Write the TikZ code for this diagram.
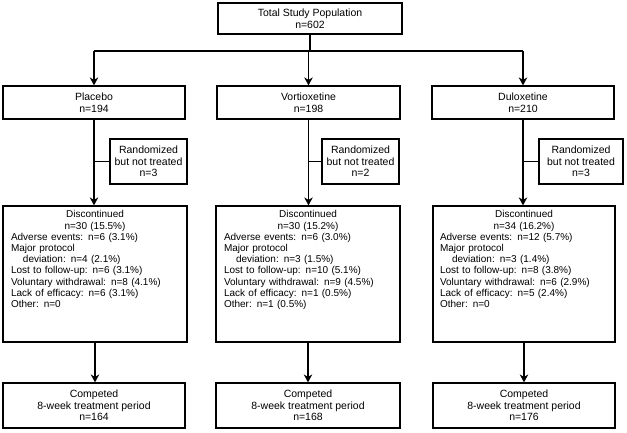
\documentclass[tikz,border=0pt]{standalone}
\usepackage{fontspec}
\setmainfont{Liberation Sans}
\usetikzlibrary{arrows.meta,positioning}
\newcommand{\boxfont}{\fontsize{10.5}{11.5}\selectfont}
\newcommand{\discfont}{\fontsize{10}{11.2}\selectfont}
\newcommand{\indt}{\hspace*{12pt}}
\newcommand{\midline}[1]{\makebox[\hsize]{#1}}
\newcommand{\tail}{\rule[-30pt]{0pt}{30pt}}
\tikzset{
  box/.style={draw, line width=1.2pt, align=center, inner sep=2pt, font=\boxfont},
  discbox/.style={box, align=left, text width=168pt, inner xsep=7pt, inner ysep=3pt,
    minimum height=136pt, font=\discfont},
  conn/.style={line width=1.4pt},
  arr/.style={conn, -{Stealth[length=8pt, width=8.5pt, inset=2.5pt]}},
}
\begin{document}
\begin{tikzpicture}[x=1pt, y=-1pt]
  \useasboundingbox (0,0) rectangle (627,432);
  % population
  \node[box, minimum width=184pt, minimum height=31pt] (total) at (310,18.5)
    {Total Study Population\\n=602};
  % treatment arms
  \node[box, minimum width=182pt, minimum height=33pt] (plac) at (94,102.5) {Placebo\\n=194};
  \node[box, minimum width=183pt, minimum height=33pt] (vort) at (308.5,102.5) {Vortioxetine\\n=198};
  \node[box, minimum width=182pt, minimum height=33pt] (dulo) at (523,102.5) {Duloxetine\\n=210};
  % not treated
  \node[box, minimum width=77pt, minimum height=45pt] (placrand) at (148.5,161.5)
    {Randomized\\but not treated\\n=3};
  \node[box, minimum width=77pt, minimum height=45pt] (vortrand) at (360.5,161.5)
    {Randomized\\but not treated\\n=2};
  \node[box, minimum width=84pt, minimum height=45pt] (dulorand) at (581,161.5)
    {Randomized\\but not treated\\n=3};
  % discontinued
  \node[discbox, minimum width=184pt] (placdisc) at (95,274) {%
    \midline{Discontinued}\\\midline{n=30 (15.5\%)}\\
    Adverse events: n=6 (3.1\%)\\Major protocol\\\indt deviation: n=4 (2.1\%)\\
    Lost to follow-up: n=6 (3.1\%)\\Voluntary withdrawal: n=8 (4.1\%)\\
    Lack of efficacy: n=6 (3.1\%)\\Other: n=0\tail};
  \node[discbox, minimum width=184pt] (vortdisc) at (308,274) {%
    \midline{Discontinued}\\\midline{n=30 (15.2\%)}\\
    Adverse events: n=6 (3.0\%)\\Major protocol\\\indt deviation: n=3 (1.5\%)\\
    Lost to follow-up: n=10 (5.1\%)\\Voluntary withdrawal: n=9 (4.5\%)\\
    Lack of efficacy: n=1 (0.5\%)\\Other: n=1 (0.5\%)\tail};
  \node[discbox, minimum width=182pt] (dulodisc) at (524,274) {%
    \midline{Discontinued}\\\midline{n=34 (16.2\%)}\\
    Adverse events: n=12 (5.7\%)\\Major protocol\\\indt deviation: n=3 (1.4\%)\\
    Lost to follow-up: n=8 (3.8\%)\\Voluntary withdrawal: n=6 (2.9\%)\\
    Lack of efficacy: n=5 (2.4\%)\\Other: n=0\tail};
  % completed
  \node[box, minimum width=182pt, minimum height=45pt] (placdone) at (94,405.5)
    {Competed\\8-week treatment period\\n=164};
  \node[box, minimum width=184pt, minimum height=45pt] (vortdone) at (308,405.5)
    {Competed\\8-week treatment period\\n=168};
  \node[box, minimum width=182pt, minimum height=45pt] (dulodone) at (524,405.5)
    {Competed\\8-week treatment period\\n=176};
  % connectors
  \coordinate (split) at (310,51);
  \draw[conn] (total.south) -- (split);
  \draw[conn] (plac.north |- split) -- (dulo.north |- split);
  \foreach \arm in {plac, vort, dulo} {
    \draw[arr] (\arm.north |- split) -- (\arm.north);
    \draw[arr] (\arm.south) -- (\arm.south |- \arm disc.north);
    \draw[conn] (\arm rand.west) -- (\arm rand.west -| \arm.south);
    \draw[arr] (\arm disc.south) -- (\arm disc.south |- \arm done.north);
  }
\end{tikzpicture}
\end{document}
